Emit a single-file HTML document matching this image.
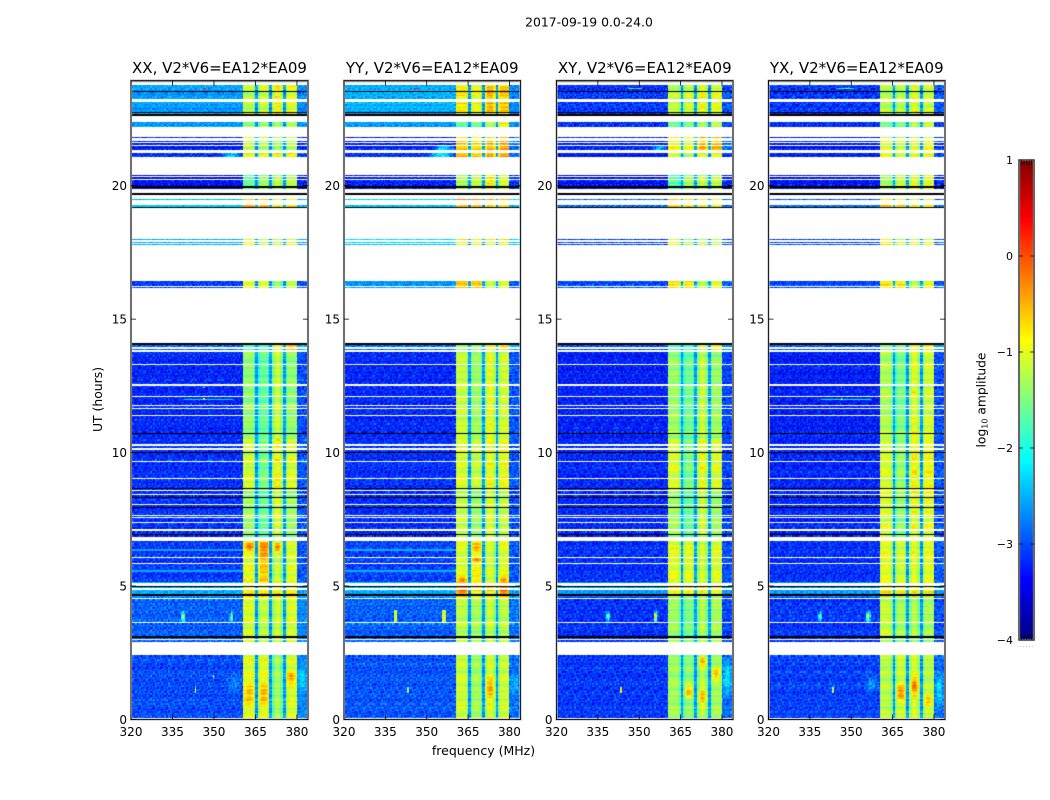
<!DOCTYPE html>
<html lang="en">
<head>
<meta charset="utf-8">
<title>2017-09-19 spectrogram</title>
<style>
html,body{margin:0;padding:0;background:#fff;width:1050px;height:800px;overflow:hidden}
#stage{position:relative;width:1050px;height:800px;background:#fff}
canvas{position:absolute;display:block}
svg{position:absolute;left:0;top:0}
text{font-family:"DejaVu Sans","Liberation Sans",sans-serif;fill:#000}
</style>
</head>
<body>
<div id="stage">
<svg id="overlay" width="1050" height="800" viewBox="0 0 1050 800">
  <text x="589" y="26.5" font-size="12.4" text-anchor="middle">2017-09-19 0.0-24.0</text>
  <text x="483.5" y="755" font-size="12.5" text-anchor="middle">frequency (MHz)</text>
  <text transform="translate(102,399.5) rotate(-90)" font-size="12.4" text-anchor="middle">UT (hours)</text>
  <text transform="translate(985.5,400) rotate(-90)" font-size="12.3" text-anchor="middle">log<tspan font-size="8" dy="2">10</tspan><tspan dy="-2"> amplitude</tspan></text>
  <text x="1017" y="647" font-size="6" letter-spacing="1" fill="#999" style="fill:#999">......</text>
</svg>
</div>
<script>
// ---------- Data ----------
const panelTitles = ["XX, V2*V6=EA12*EA09", "YY, V2*V6=EA12*EA09", "XY, V2*V6=EA12*EA09", "YX, V2*V6=EA12*EA09"];
const freqTicks = [320, 335, 350, 365, 380];
const hourTicks = [0, 5, 10, 15, 20];
const colorTicks = [-4, -3, -2, -1, 0, 1];

// Time blocks: each starts at this hour (UT); levels below are log10 amplitude.
const blockStartHours = [0, 2.41, 4.6, 5.13, 6.7, 8.6, 10.5, 13.84, 16, 17, 19, 19.8, 21, 21.33, 22, 22.55];
// Each row: [background, sub-band A, B, C, D, upper edge]
const levelsXX = [
  [-3.05,-1.0,-0.95,-1.25,-1.05,-2.75],[-2.95,-1.05,-1.15,-1.05,-1.05,-2.75],[-2.6,-0.8,-0.8,-0.8,-0.85,-2.6],[-3.15,-1.0,-0.65,-1.1,-1.05,-3.0],
  [-3.2,-1.35,-1.6,-1.0,-1.35,-3.0],[-3.2,-1.1,-1.5,-0.85,-1.05,-3.0],[-3.25,-1.4,-1.6,-1.1,-1.4,-3.05],[-2.9,-1.7,-1.7,-0.9,-0.5,-2.5],
  [-3.1,-0.9,-0.9,-1.2,-1.1,-3.0],[-2.55,-0.9,-1.1,-1.0,-1.0,-2.55],[-2.45,-0.5,-0.5,-0.8,-0.8,-2.45],[-3.4,-1.6,-1.3,-1.1,-1.2,-3.3],
  [-3.2,-0.95,-0.95,-0.8,-0.85,-3.1],[-3.3,-1.1,-1.2,-1.2,-1.2,-3.2],[-2.65,-1.4,-1.3,-1.2,-1.2,-2.65],[-2.65,-1.2,-1.1,-0.8,-1.0,-2.75]
];
const levelsYY = [
  [-3.0,-1.1,-1.3,-1.0,-1.1,-2.85],[-2.95,-1.2,-1.3,-1.1,-1.2,-2.85],[-2.55,-0.5,-0.8,-0.7,-0.5,-2.55],[-3.1,-1.05,-0.9,-1.05,-1.0,-3.0],
  [-3.2,-1.1,-1.3,-0.95,-1.1,-3.0],[-3.2,-1.05,-1.15,-0.9,-0.95,-3.0],[-3.25,-1.15,-1.35,-0.95,-1.1,-3.0],[-2.9,-1.4,-1.4,-0.85,-0.7,-2.55],
  [-2.7,-0.6,-0.6,-1.1,-1.05,-2.95],[-2.4,-0.85,-0.95,-0.85,-0.85,-2.4],[-2.4,-0.4,-0.4,-0.45,-0.6,-2.4],[-3.3,-1.3,-1.2,-0.8,-1.1,-3.2],
  [-3.2,-0.6,-0.7,-0.45,-0.5,-2.9],[-3.3,-0.7,-0.8,-0.55,-0.5,-2.9],[-2.65,-1.6,-1.5,-1.1,-0.85,-2.7],[-2.55,-0.8,-0.95,-0.5,-0.6,-2.75]
];
const levelsXY = [
  [-3.15,-1.3,-1.4,-1.15,-1.3,-2.9],[-3.2,-1.35,-1.5,-1.2,-1.3,-3.1],[-2.7,-0.9,-0.9,-0.85,-1.0,-2.7],[-3.2,-1.0,-1.0,-1.05,-1.05,-3.05],
  [-3.25,-1.3,-1.6,-1.05,-1.35,-3.1],[-3.25,-1.05,-1.5,-0.9,-1.05,-3.1],[-3.3,-1.35,-1.55,-1.1,-1.35,-3.1],[-3.0,-1.7,-1.7,-1.0,-0.8,-2.7],
  [-3.1,-0.85,-0.85,-1.2,-1.1,-3.0],[-3.1,-0.9,-1.2,-1.0,-1.1,-3.0],[-2.9,-0.6,-0.7,-0.8,-0.9,-2.9],[-3.4,-1.7,-1.3,-1.1,-1.2,-3.3],
  [-3.3,-1.0,-1.2,-0.8,-0.9,-3.1],[-3.3,-0.9,-1.0,-0.45,-0.55,-2.9],[-3.2,-1.6,-1.5,-1.2,-1.2,-3.1],[-3.15,-1.15,-1.1,-0.85,-1.0,-3.0]
];
const levelsYX = [
  [-3.1,-1.2,-1.1,-1.0,-1.2,-2.9],[-3.15,-1.15,-1.3,-1.2,-1.3,-3.05],[-2.7,-0.8,-0.9,-0.8,-0.9,-2.7],[-3.2,-1.0,-1.1,-0.95,-1.0,-3.0],
  [-3.25,-1.05,-1.4,-0.9,-1.0,-3.05],[-3.25,-1.05,-1.35,-0.8,-0.9,-3.0],[-3.3,-1.25,-1.5,-0.95,-1.1,-3.05],[-3.0,-1.5,-1.5,-0.9,-0.8,-2.7],
  [-3.1,-0.85,-0.85,-1.2,-1.05,-3.0],[-3.1,-0.9,-1.2,-1.0,-1.1,-3.0],[-2.9,-0.6,-0.7,-0.8,-0.9,-2.9],[-3.4,-1.4,-1.2,-1.0,-1.1,-3.3],
  [-3.3,-1.0,-1.1,-0.9,-0.9,-3.1],[-3.3,-1.0,-1.1,-0.9,-0.9,-3.1],[-3.2,-1.6,-1.5,-1.2,-1.2,-3.1],[-3.15,-1.2,-1.2,-0.9,-1.1,-3.0]
];
const panelLevels = [levelsXX, levelsYY, levelsXY, levelsYX];

// Frequency structure (MHz) shared by all panels.
const subBandEdges = [360.6, 365.1, 365.9, 370.2, 371, 375, 375.8, 379.8];
const notchLevel = -2.6;
const notchShoulderDrop = 0.35;
const backgroundLift = 0.05;

// Flagged (white) time ranges [start, end] in hours.
const flaggedHours = [
  [0.03,0.07],[2.41,2.91],[2.98,3.02],[3.61,3.65],[4.54,4.57],[4.84,4.91],[4.99,5.13],[5.84,5.88],[6.04,6.08],[6.68,6.82],
  [7.08,7.12],[7.37,7.41],[7.57,7.60],[7.62,7.65],[8.02,8.06],[8.42,8.46],[8.56,8.61],[9.02,9.06],[9.64,9.69],[10.11,10.16],
  [10.26,10.31],[11.37,11.40],[11.62,11.66],[11.73,11.78],[12.08,12.12],[12.50,12.56],[13.29,13.32],[13.78,13.84],[13.89,13.95],
  [14.10,16.17],[16.21,16.23],[16.43,17.78],[17.82,17.86],[17.89,17.96],[17.99,19.19],[19.26,19.47],[19.51,19.67],[19.74,19.87],
  [20.21,20.26],[20.31,20.36],[20.40,21.06],[21.23,21.33],[21.49,21.53],[21.59,21.65],[21.69,21.78],[21.82,22.20],[22.39,22.62],
  [23.12,23.24],[23.77,23.87]
];
// Zero-amplitude (black) time ranges [start, end] in hours.
const zeroHours = [
  [3.05,3.14],[4.61,4.71],[4.95,4.99],[6.90,6.94],[7.94,7.96],[8.33,8.35],[8.65,8.67],[9.98,10.03],[10.70,10.73],
  [14.05,14.10],[19.19,19.21],[19.67,19.74],[19.92,19.99],[22.62,22.69],[22.75,22.78],[23.51,23.55],[23.9,23.94]
];
// Localised features: [panel, fStart, fEnd, hStart, hEnd, level]
const patches = [
  [0,360.6,365.1,0.4,1.5,-0.5],[0,365.9,370.2,0.4,1.5,-0.45],[0,375.8,379.8,1.2,1.9,-0.4],[0,365.9,370.2,5.7,6.68,-0.4],[0,360.6,365.1,6.25,6.68,-0.1],[0,365.9,370.2,6.2,6.68,-0.2],[0,371,375,6.2,6.68,-0.2],
  [1,360.6,365.1,5.1,5.4,-0.1],[1,375.8,379.8,5.1,5.4,-0.2],[1,365.9,370.2,5.1,5.4,-0.7],[1,365.9,370.2,6.2,6.68,-0.5],[1,365.9,370.2,5.85,6.15,-0.3],[1,371,375,0.6,1.7,-0.4],[1,360.6,365.1,4.71,4.85,-0.1],[1,375.8,379.8,4.71,4.85,-0.1],
  [2,371,375,1.9,2.41,-0.4],[2,365.9,370.2,0.7,1.4,-0.5],[2,371,375,0.4,1.3,-0.5],[2,375.8,379.8,1.4,2.0,-0.4],
  [3,365.9,370.2,0.6,1.4,-0.25],[3,371,375,0.7,1.8,-0.25],[3,375.8,379.8,0.3,1.1,-0.6],
  [0,352,360.6,21.06,21.23,-2.4],[1,350,360.6,21.06,21.23,-2.2],[1,352,360.6,21.33,21.49,-2.3],[2,354,360.6,21.33,21.49,-2.5],[0,354,360.6,0.9,1.8,-2.7],[3,354,360.6,0.9,1.8,-2.7],
  [0,379.8,384,0.9,2.1,-2.3],[1,379.8,384,0.8,1.8,-2.5],[2,379.8,384,0.7,2.41,-2.2],[3,379.8,384,0.3,1.9,-2.3],
  [0,320,360.6,6.33,6.38,-2.55],[1,320,360.6,6.33,6.38,-2.5],[0,320,360.6,5.54,5.59,-2.55],[1,320,360.6,5.54,5.59,-2.5],
  [0,337.8,339.8,3.6,4.1,-1.3],[0,355.6,357.1,3.6,4.1,-1.0],[1,338.3,339.3,3.6,4.1,-1.1],[1,355.7,356.9,3.6,4.1,-1.1],[2,337.7,339.7,3.6,4.1,-1.4],[2,355.2,356.8,3.6,4.1,-0.6],[3,337.9,339.7,3.6,4.1,-1.6],[3,355.2,357,3.6,4.1,-0.8],
  [0,346,347.2,23.61,23.67,0.3],[1,345.5,346.8,23.61,23.67,0.3],[2,346,351,23.61,23.67,-1.9],[2,348,349.3,23.61,23.67,-0.2],[3,345,351,23.61,23.67,-2.0],[3,348,349,23.61,23.67,-1.0],
  [0,343,343.6,1.0,1.2,-0.9],[0,349.5,350,1.55,1.65,-1.0],[2,343,343.6,1.0,1.2,-0.8],[1,343,343.6,1.0,1.2,-1.4],[3,343,343.6,1.0,1.2,-1.2],
  [0,339,357,11.97,12.02,-2.3],[3,339,357,11.97,12.02,-2.2],[0,346.2,346.8,11.97,12.05,-0.8],[3,346.2,346.8,11.97,12.05,-0.9],[0,346.2,346.8,12.42,12.47,-1.2],[3,346.2,346.8,12.42,12.47,-1.0],
  [0,322.5,323,17.8,17.9,-0.1],[2,323,323.5,17.8,17.9,0.1],[3,323,323.5,17.8,17.9,0.1]
];
// Hand-typed speckle digits standing in for the per-pixel noise (tiled, not measured).
const speckleTile = [
  "49270638152947038164925703816","07316492850371649205837164092","85142907364815920736481592073","31690485271396048527139604852",
  "62087319546208731954620873195","94523170689452317068945231706","16749283056167492830561674928","73051648927305164892730516489",
  "28396015742839601574283960157","50814729365081472936508147293","97462038195746203819574620381","14937586021493758602149375860",
  "69205174836920517483692051748","38571940263857194026385719402","02648391570264839157026483915","85719206437571920643857192064",
  "41306857924130685792413068579"
];
const rowStreakTile = "5274916038275194602837519463028175946302";

// ---------- Scales ----------
const panelLeft = [131, 344, 556.5, 768.5];
const panelRight = [308, 520.5, 733, 945];
const freqMin = 320, freqMax = 384, hourMax = 23.94;
const bottomPx = 719.5, pxPerHour = 26.69;
function xScale(p, f){ return panelLeft[p] + (f - freqMin) * (panelRight[p] - panelLeft[p]) / (freqMax - freqMin); }
function yScale(h){ return bottomPx - h * pxPerHour; }
const cbTop = 160, cbBottom = 640, cbLeft = 1019, cbRight = 1034;
function colorScale(v){ return cbBottom - (v + 4) * (cbBottom - cbTop) / 5; }
function clamp01(v){ return Math.max(0, Math.min(1, v)); }
function jet(level){
  const t = clamp01((level + 4) / 5);
  const r = clamp01(1.5 - Math.abs(4*t - 3));
  const g = clamp01(1.5 - Math.abs(4*t - 2));
  const b = clamp01(1.5 - Math.abs(4*t - 1));
  return "rgb(" + Math.round(r*255) + "," + Math.round(g*255) + "," + Math.round(b*255) + ")";
}
function blockIndex(h){
  let idx = 0;
  for (let i = 0; i < blockStartHours.length; i++) if (h >= blockStartHours[i]) idx = i;
  return idx;
}
function nearNotch(f){
  for (let i = 1; i <= 6; i++) if (Math.abs(f - subBandEdges[i]) <= 0.75) return true;
  return false;
}
function cellLevel(row, f){
  if (f < subBandEdges[0]) return row[0] + backgroundLift;
  if (f >= subBandEdges[7]) return row[5] + backgroundLift;
  if (f >= subBandEdges[1] && f < subBandEdges[2]) return notchLevel;
  if (f >= subBandEdges[3] && f < subBandEdges[4]) return notchLevel;
  if (f >= subBandEdges[5] && f < subBandEdges[6]) return notchLevel;
  let v = row[1];
  if (f >= subBandEdges[6]) v = row[4];
  else if (f >= subBandEdges[4]) v = row[3];
  else if (f >= subBandEdges[2]) v = row[2];
  return nearNotch(f) ? v - notchShoulderDrop : v;
}
function isSoftPatch(q){ return (q[2] - q[1]) >= 1.5 && (q[4] - q[3]) >= 0.1; }
function ramp(v, a, b){
  const d = Math.min(v - a, b - v);
  return clamp01(2.5 * d / (b - a));
}

// ---------- Drawing ----------
const stage = document.getElementById("stage");
const overlay = document.getElementById("overlay");
const NS = "http://www.w3.org/2000/svg";
function svgEl(tag, attrs){
  const el = document.createElementNS(NS, tag);
  for (const k in attrs) el.setAttribute(k, attrs[k]);
  overlay.appendChild(el);
  return el;
}

const canvasTop = Math.floor(yScale(hourMax));
const canvasHeight = Math.ceil(bottomPx) - canvasTop;
const freqStep = 0.5, hourStep = 0.05;

panelTitles.forEach(function(title, p){
  const left = Math.floor(panelLeft[p]);
  const width = Math.ceil(panelRight[p]) - left;
  const cv = document.createElement("canvas");
  cv.width = width; cv.height = canvasHeight;
  cv.style.left = left + "px"; cv.style.top = canvasTop + "px";
  
  
  stage.insertBefore(cv, overlay);
  const ctx = cv.getContext("2d");
  const levels = panelLevels[p];
  const own = patches.filter(function(q){ return q[0] === p; });
  const soft = own.filter(isSoftPatch);
  const hard = own.filter(function(q){ return !isSoftPatch(q); });

  function fillBand(f0, f1, h0, h1, color){
    const x0 = Math.round(xScale(p, f0)) - left, x1 = Math.round(xScale(p, f1)) - left;
    const y0 = Math.round(yScale(h1)) - canvasTop, y1 = Math.round(yScale(h0)) - canvasTop;
    ctx.fillStyle = color;
    ctx.fillRect(x0, y0, Math.max(1, x1 - x0), Math.max(1, y1 - y0));
  }

  const nRows = Math.ceil(hourMax / hourStep), nCols = Math.round((freqMax - freqMin) / freqStep);
  for (let r = 0; r < nRows; r++){
    const h = (r + 0.5) * hourStep;
    const row = levels[blockIndex(h)];
    const streak = (rowStreakTile.charCodeAt((r + p * 3) % rowStreakTile.length) - 52.5) * 0.02;
    const spRow = speckleTile[(r + p * 5) % speckleTile.length];
    for (let c = 0; c < nCols; c++){
      const f = freqMin + (c + 0.5) * freqStep;
      let base = cellLevel(row, f);
      const inBand = f >= subBandEdges[0] && f < subBandEdges[7];
      const sp = (spRow.charCodeAt((c + p * 7) % spRow.length) - 52.5) * 0.08;
      const scale = inBand ? 0.3 : (base > -2.8 ? 0.7 : 1);
      for (let i = 0; i < soft.length; i++){
        const q = soft[i];
        if (f >= q[1] && f <= q[2] && h >= q[3] && h <= q[4]){
          const wf = ramp(f, q[1], q[2]);
          const wh = (q[4] - q[3]) >= 0.25 ? ramp(h, q[3], q[4]) : 1;
          base += (q[5] - base) * wf * wh;
        }
      }
      const total = base + sp * scale + streak * (inBand ? 2.5 : 1);
      fillBand(freqMin + c * freqStep, freqMin + (c + 1) * freqStep, r * hourStep, (r + 1) * hourStep, jet(total));
    }
  }
  hard.forEach(function(q){ fillBand(q[1], q[2], q[3], q[4], jet(q[5])); });
  flaggedHours.forEach(function(g){ fillBand(freqMin, freqMax, g[0], g[1], "#fff"); });
  zeroHours.forEach(function(g){ fillBand(freqMin, freqMax, g[0], g[1], "#000"); });

  // Frame
  const frameOuter = svgEl("rect", {x: panelLeft[p], y: yScale(hourMax), width: panelRight[p]-panelLeft[p], height: bottomPx-yScale(hourMax), fill: "none", stroke: "#bdbdbd", "stroke-width": 2.2});
  
  
  const frame = svgEl("rect", {x: panelLeft[p], y: yScale(hourMax), width: panelRight[p]-panelLeft[p], height: bottomPx-yScale(hourMax), fill: "none", stroke: "#222", "stroke-width": 1});
  
  

  // Title
  const t = svgEl("text", {x: (panelLeft[p]+panelRight[p])/2, y: 73, "font-size": 15, "text-anchor": "middle"});
  t.textContent = title;
  
  

  // Frequency ticks
  freqTicks.forEach(function(v){
    const x = xScale(p, v);
    const tick = svgEl("path", {d: "M"+x+" "+bottomPx+"v-5M"+x+" "+yScale(hourMax)+"v5", stroke: "#000", "stroke-width": 0.8, fill: "none"});
    
    
    const lab = svgEl("text", {x: x, y: 736, "font-size": 12, "text-anchor": "middle"});
    lab.textContent = v;
    
    
  });
  // Hour ticks
  hourTicks.forEach(function(v){
    const y = yScale(v);
    const tick = svgEl("path", {d: "M"+panelLeft[p]+" "+y+"h5M"+panelRight[p]+" "+y+"h-5", stroke: "#000", "stroke-width": 0.8, fill: "none"});
    
    
    const lab = svgEl("text", {x: panelLeft[p]-4, y: y+4.5, "font-size": 12, "text-anchor": "end"});
    lab.textContent = v;
    
    
  });
});

// ---------- Colorbar ----------
const cb = document.createElement("canvas");
cb.width = cbRight - cbLeft; cb.height = cbBottom - cbTop;
cb.style.left = cbLeft + "px"; cb.style.top = cbTop + "px";


stage.insertBefore(cb, overlay);
const cbCtx = cb.getContext("2d");
for (let py = cbTop; py < cbBottom; py++){
  const value = -4 + (cbBottom - py - 0.5) * 5 / (cbBottom - cbTop);
  cbCtx.fillStyle = jet(value);
  cbCtx.fillRect(0, py - cbTop, cbRight - cbLeft, 1);
}
const cbHalo = svgEl("rect", {x: cbLeft, y: cbTop, width: cbRight-cbLeft, height: cbBottom-cbTop, fill: "none", stroke: "#bdbdbd", "stroke-width": 2.2});


const cbFrame = svgEl("rect", {x: cbLeft, y: cbTop, width: cbRight-cbLeft, height: cbBottom-cbTop, fill: "none", stroke: "#111", "stroke-width": 1});


colorTicks.forEach(function(v){
  const y = colorScale(v);
  const tick = svgEl("path", {d: "M"+cbLeft+" "+y+"h4M"+cbRight+" "+y+"h-4", stroke: "#000", "stroke-width": 0.8, fill: "none"});
  
  
  const lab = svgEl("text", {x: 1013, y: y+4, "font-size": 11, "text-anchor": "end"});
  lab.textContent = v < 0 ? "\u2212" + Math.abs(v) : String(v);
  
  
});
[1021.5, 1024, 1026.5, 1029, 1031.5].forEach(function(x){
  const m = svgEl("path", {d: "M"+x+" "+cbTop+"v5M"+x+" "+cbBottom+"v-5", stroke: "#000", "stroke-width": 0.7, fill: "none"});
  
  
});
</script>
</body>
</html>
